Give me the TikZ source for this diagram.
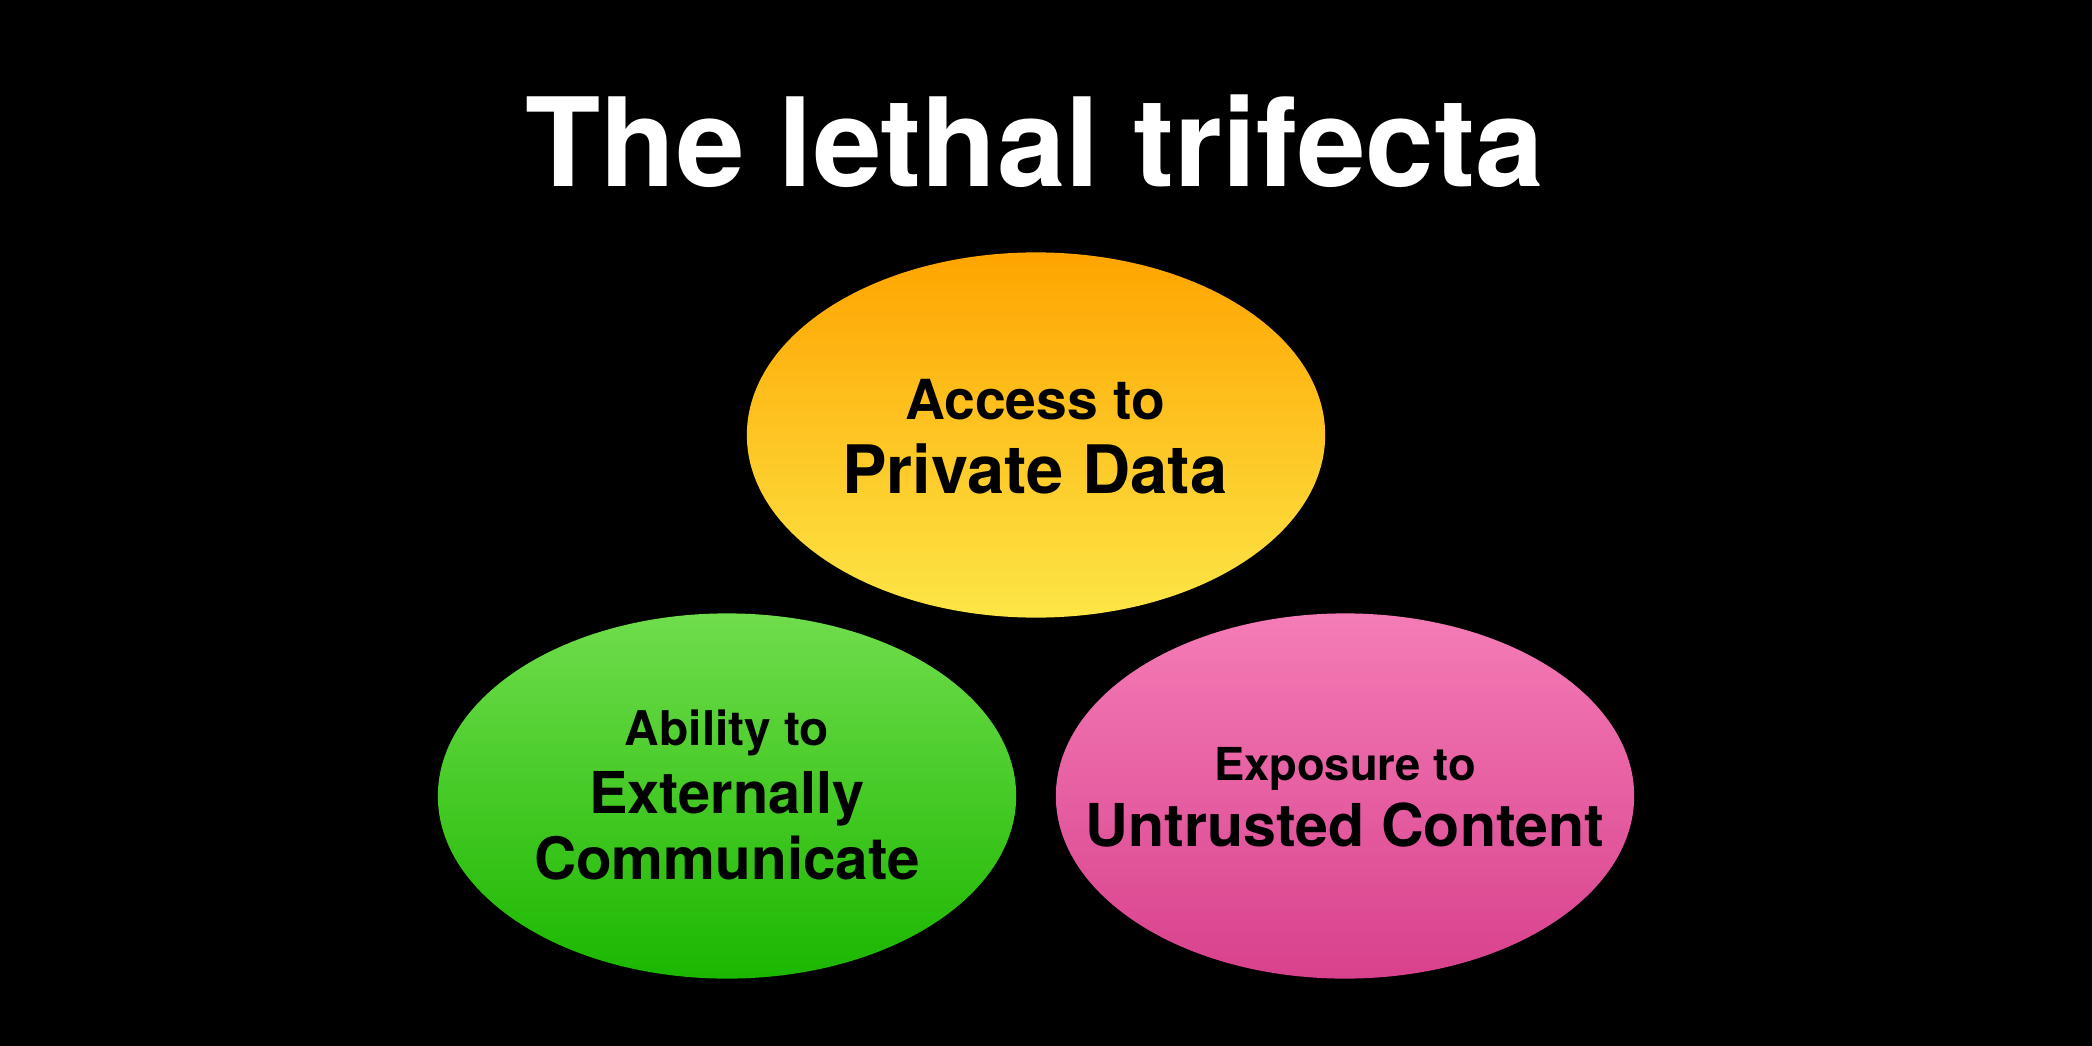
\documentclass[tikz,border=0pt]{standalone}
\usepackage{fontspec}
\setmainfont{TeX Gyre Heros}
\usetikzlibrary{shapes.geometric}
\definecolor{orangetop}{HTML}{FFA400}
\definecolor{orangebot}{HTML}{FCE646}
\definecolor{greentop}{HTML}{70DD4C}
\definecolor{greenbot}{HTML}{1BB700}
\definecolor{pinktop}{HTML}{F47CB6}
\definecolor{pinkbot}{HTML}{D8418D}

\tikzset{
  blob/.style={ellipse, inner sep=0pt, minimum width=5.78cm, minimum height=3.65cm},
  small/.style={anchor=base, font=\bfseries\fontsize{15.7}{15.7}\selectfont},
  big/.style={anchor=base, font=\bfseries\fontsize{19}{19}\selectfont},
}

\begin{document}
\begin{tikzpicture}[x=0.01cm, y=-0.01cm]
  % black slide
  \fill[black] (0,0) rectangle (2092,1046);
  \useasboundingbox (0,0) rectangle (2092,1046);

  % title
  \node (title) [anchor=base, white, font=\bfseries\fontsize{35}{35}\selectfont] at (1035,187) {The lethal trifecta};

  % the three ellipses
  \node (priv) [blob, top color=orangetop, bottom color=orangebot] at (1036,435) {};
  \node (comm) [blob, top color=greentop, bottom color=greenbot] at (727,796) {};
  \node (untr) [blob, top color=pinktop, bottom color=pinkbot] at (1345,796) {};

  % labels
  \node (priv1) [small] at (1035,419) {Access to};
  \node (priv2) [big] at (1035,493) {Private Data};

  \node (comm1) [small, font=\bfseries\fontsize{13.6}{13.6}\selectfont] at (727,745) {Ability to};
  \node (comm2) [big, font=\bfseries\fontsize{16.4}{16.4}\selectfont] at (727,813) {Externally};
  \node (comm3) [big, font=\bfseries\fontsize{16.6}{16.6}\selectfont] at (727,879) {Communicate};

  \node (untr1) [small, font=\bfseries\fontsize{12.9}{12.9}\selectfont] at (1345,780) {Exposure to};
  \node (untr2) [big, font=\bfseries\fontsize{16.8}{16.8}\selectfont] at (1345,846) {Untrusted Content};
\end{tikzpicture}
\end{document}
